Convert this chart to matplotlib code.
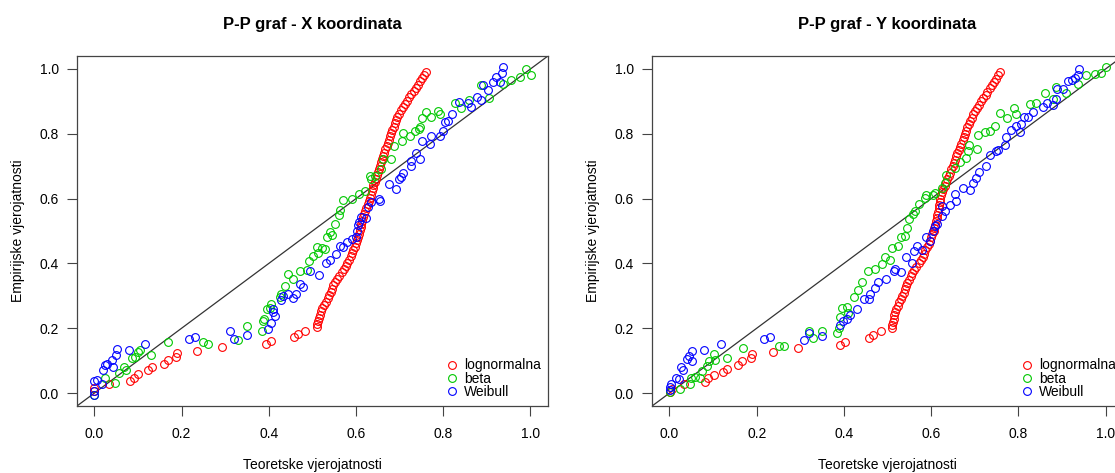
import matplotlib

matplotlib.use("Agg")
import matplotlib.pyplot as plt
import numpy as np

plt.rcParams["font.family"] = ["Liberation Sans", "DejaVu Sans"]
plt.rcParams["font.size"] = 10

# P-P graf, X koordinata: (teoretska, empirijska)
xk_lognormalna = [
    (0.000, 0.007), (0.000, 0.015), (0.033, 0.027), (0.081, 0.038), (0.090, 0.046),
    (0.101, 0.059), (0.122, 0.070), (0.133, 0.079), (0.159, 0.090), (0.168, 0.101),
    (0.188, 0.111), (0.189, 0.123), (0.236, 0.131), (0.293, 0.141), (0.394, 0.151),
    (0.404, 0.162), (0.458, 0.172), (0.468, 0.182), (0.484, 0.193), (0.510, 0.203),
    (0.511, 0.213), (0.513, 0.222), (0.515, 0.232), (0.517, 0.242), (0.519, 0.252),
    (0.523, 0.262), (0.527, 0.272), (0.531, 0.282), (0.535, 0.292), (0.538, 0.302),
    (0.542, 0.312), (0.546, 0.322), (0.548, 0.332), (0.551, 0.342), (0.556, 0.352),
    (0.562, 0.362), (0.568, 0.372), (0.573, 0.382), (0.577, 0.392), (0.580, 0.402),
    (0.584, 0.412), (0.588, 0.422), (0.591, 0.432), (0.594, 0.442), (0.597, 0.452),
    (0.600, 0.462), (0.603, 0.472), (0.605, 0.482), (0.607, 0.492), (0.609, 0.502),
    (0.611, 0.512), (0.612, 0.522), (0.614, 0.532), (0.616, 0.542), (0.618, 0.552),
    (0.621, 0.562), (0.624, 0.572), (0.627, 0.582), (0.629, 0.592), (0.631, 0.602),
    (0.634, 0.612), (0.636, 0.622), (0.638, 0.632), (0.640, 0.642), (0.643, 0.652),
    (0.645, 0.662), (0.648, 0.672), (0.651, 0.682), (0.653, 0.692), (0.655, 0.702),
    (0.657, 0.712), (0.660, 0.722), (0.662, 0.732), (0.665, 0.742), (0.667, 0.752),
    (0.670, 0.762), (0.673, 0.772), (0.676, 0.782), (0.678, 0.792), (0.681, 0.802),
    (0.683, 0.812), (0.686, 0.822), (0.689, 0.832), (0.692, 0.842), (0.695, 0.852),
    (0.698, 0.862), (0.702, 0.872), (0.707, 0.882), (0.712, 0.892), (0.717, 0.902),
    (0.722, 0.912), (0.727, 0.922), (0.732, 0.932), (0.737, 0.942), (0.742, 0.952),
    (0.747, 0.962), (0.752, 0.972), (0.756, 0.982), (0.760, 0.992),
]
xk_beta = [
    (0.000, -0.005), (0.025, 0.046), (0.048, 0.030), (0.056, 0.061), (0.067, 0.081),
    (0.073, 0.071), (0.086, 0.107), (0.094, 0.112), (0.101, 0.127), (0.105, 0.132),
    (0.130, 0.117), (0.169, 0.158), (0.250, 0.158), (0.260, 0.151), (0.330, 0.165),
    (0.349, 0.208), (0.384, 0.190), (0.386, 0.221), (0.390, 0.227), (0.395, 0.259),
    (0.403, 0.261), (0.406, 0.274), (0.425, 0.295), (0.429, 0.305), (0.437, 0.330),
    (0.444, 0.366), (0.456, 0.351), (0.471, 0.376), (0.487, 0.381), (0.493, 0.407),
    (0.502, 0.422), (0.510, 0.452), (0.513, 0.432), (0.521, 0.447), (0.529, 0.444),
    (0.534, 0.483), (0.540, 0.498), (0.544, 0.488), (0.551, 0.523), (0.561, 0.549),
    (0.564, 0.564), (0.569, 0.595), (0.590, 0.600), (0.607, 0.615), (0.620, 0.625),
    (0.632, 0.671), (0.635, 0.661), (0.643, 0.671), (0.658, 0.691), (0.662, 0.722),
    (0.681, 0.722), (0.687, 0.762), (0.706, 0.777), (0.708, 0.803), (0.723, 0.793),
    (0.735, 0.810), (0.744, 0.816), (0.747, 0.820), (0.752, 0.849), (0.760, 0.867),
    (0.771, 0.851), (0.788, 0.869), (0.793, 0.861), (0.826, 0.894), (0.841, 0.881),
    (0.860, 0.904), (0.886, 0.950), (0.905, 0.910), (0.937, 0.955), (0.956, 0.965),
    (0.975, 0.976), (0.990, 1.001), (1.002, 0.981),
]
xk_weibull = [
    (0.000, -0.005), (0.000, 0.005), (0.000, 0.036), (0.006, 0.041), (0.018, 0.027),
    (0.020, 0.071), (0.025, 0.086), (0.030, 0.091), (0.040, 0.102), (0.043, 0.081),
    (0.050, 0.117), (0.052, 0.137), (0.079, 0.132), (0.117, 0.152), (0.216, 0.166),
    (0.230, 0.173), (0.310, 0.190), (0.320, 0.168), (0.349, 0.180), (0.399, 0.198),
    (0.405, 0.216), (0.414, 0.239), (0.409, 0.259), (0.410, 0.249), (0.427, 0.288),
    (0.433, 0.300), (0.444, 0.305), (0.455, 0.292), (0.462, 0.305), (0.471, 0.335),
    (0.479, 0.328), (0.494, 0.376), (0.516, 0.363), (0.532, 0.401), (0.540, 0.412),
    (0.555, 0.430), (0.564, 0.454), (0.570, 0.452), (0.580, 0.467), (0.590, 0.475),
    (0.600, 0.483), (0.603, 0.501), (0.605, 0.518), (0.607, 0.528), (0.612, 0.544),
    (0.624, 0.539), (0.628, 0.574), (0.635, 0.589), (0.653, 0.600), (0.656, 0.592),
    (0.676, 0.645), (0.691, 0.630), (0.699, 0.661), (0.702, 0.668), (0.708, 0.678),
    (0.725, 0.701), (0.727, 0.716), (0.738, 0.742), (0.747, 0.722), (0.752, 0.777),
    (0.769, 0.767), (0.773, 0.793), (0.792, 0.793), (0.799, 0.808), (0.805, 0.836),
    (0.811, 0.840), (0.821, 0.861), (0.836, 0.899), (0.857, 0.894), (0.864, 0.884),
    (0.877, 0.912), (0.887, 0.904), (0.891, 0.950), (0.902, 0.935), (0.914, 0.960),
    (0.921, 0.976), (0.931, 0.960), (0.935, 0.989), (0.938, 1.006),
]

# P-P graf, Y koordinata
yk_lognormalna = [
    (0.002, 0.004), (0.006, 0.012), (0.033, 0.027), (0.081, 0.035), (0.088, 0.045),
    (0.101, 0.055), (0.122, 0.065), (0.132, 0.075), (0.157, 0.087), (0.167, 0.098),
    (0.188, 0.108), (0.189, 0.119), (0.237, 0.128), (0.294, 0.138), (0.391, 0.148),
    (0.403, 0.159), (0.458, 0.169), (0.466, 0.179), (0.484, 0.190), (0.510, 0.200),
    (0.511, 0.210), (0.512, 0.220), (0.514, 0.230), (0.515, 0.240), (0.518, 0.250),
    (0.520, 0.260), (0.523, 0.270), (0.527, 0.280), (0.531, 0.290), (0.534, 0.300),
    (0.537, 0.310), (0.540, 0.320), (0.542, 0.330), (0.545, 0.340), (0.549, 0.350),
    (0.553, 0.360), (0.557, 0.370), (0.561, 0.380), (0.566, 0.390), (0.572, 0.400),
    (0.577, 0.410), (0.581, 0.420), (0.584, 0.430), (0.587, 0.440), (0.591, 0.450),
    (0.594, 0.460), (0.597, 0.470), (0.600, 0.480), (0.603, 0.490), (0.606, 0.500),
    (0.607, 0.510), (0.609, 0.520), (0.611, 0.530), (0.613, 0.540), (0.614, 0.550),
    (0.615, 0.560), (0.617, 0.570), (0.618, 0.580), (0.620, 0.590), (0.621, 0.600),
    (0.623, 0.610), (0.625, 0.620), (0.628, 0.630), (0.631, 0.640), (0.634, 0.650),
    (0.637, 0.660), (0.640, 0.670), (0.643, 0.680), (0.646, 0.690), (0.649, 0.700),
    (0.652, 0.710), (0.655, 0.720), (0.657, 0.730), (0.660, 0.740), (0.663, 0.750),
    (0.666, 0.760), (0.669, 0.770), (0.672, 0.780), (0.675, 0.790), (0.678, 0.800),
    (0.680, 0.810), (0.683, 0.820), (0.686, 0.830), (0.690, 0.840), (0.693, 0.850),
    (0.697, 0.860), (0.701, 0.870), (0.705, 0.880), (0.710, 0.890), (0.715, 0.900),
    (0.720, 0.910), (0.725, 0.920), (0.729, 0.930), (0.734, 0.940), (0.739, 0.950),
    (0.744, 0.960), (0.749, 0.970), (0.754, 0.980), (0.758, 0.990),
]
yk_beta = [
    (0.002, 0.004), (0.025, 0.014), (0.048, 0.027), (0.050, 0.048), (0.059, 0.051),
    (0.071, 0.045), (0.075, 0.068), (0.086, 0.083), (0.090, 0.099), (0.101, 0.122),
    (0.105, 0.102), (0.132, 0.109), (0.169, 0.139), (0.250, 0.144), (0.262, 0.146),
    (0.319, 0.190), (0.349, 0.190), (0.330, 0.170), (0.384, 0.185), (0.388, 0.200),
    (0.391, 0.236), (0.395, 0.261), (0.407, 0.266), (0.410, 0.246), (0.422, 0.297),
    (0.433, 0.317), (0.441, 0.342), (0.456, 0.376), (0.471, 0.383), (0.487, 0.398),
    (0.494, 0.419), (0.506, 0.411), (0.510, 0.449), (0.525, 0.454), (0.532, 0.480),
    (0.540, 0.485), (0.544, 0.510), (0.550, 0.536), (0.559, 0.551), (0.563, 0.561),
    (0.571, 0.583), (0.586, 0.602), (0.588, 0.612), (0.605, 0.610), (0.609, 0.617),
    (0.624, 0.632), (0.632, 0.647), (0.635, 0.673), (0.654, 0.693), (0.666, 0.713),
    (0.681, 0.724), (0.685, 0.746), (0.687, 0.764), (0.706, 0.754), (0.708, 0.797),
    (0.723, 0.805), (0.735, 0.810), (0.746, 0.825), (0.759, 0.864), (0.773, 0.848),
    (0.790, 0.881), (0.794, 0.861), (0.826, 0.891), (0.841, 0.896), (0.860, 0.925),
    (0.879, 0.907), (0.886, 0.944), (0.910, 0.925), (0.937, 0.955), (0.956, 0.980),
    (0.975, 0.983), (0.990, 0.988), (1.000, 1.006),
]
yk_weibull = [
    (0.001, 0.010), (0.002, 0.020), (0.004, 0.027), (0.014, 0.048), (0.021, 0.043),
    (0.027, 0.081), (0.031, 0.071), (0.039, 0.106), (0.044, 0.114), (0.052, 0.129),
    (0.052, 0.099), (0.079, 0.134), (0.117, 0.152), (0.216, 0.167), (0.230, 0.173),
    (0.309, 0.163), (0.321, 0.185), (0.349, 0.177), (0.391, 0.210), (0.397, 0.221),
    (0.407, 0.228), (0.414, 0.241), (0.429, 0.258), (0.445, 0.289), (0.458, 0.289),
    (0.460, 0.305), (0.471, 0.325), (0.479, 0.342), (0.496, 0.353), (0.515, 0.378),
    (0.517, 0.383), (0.532, 0.373), (0.542, 0.419), (0.555, 0.400), (0.561, 0.439),
    (0.568, 0.454), (0.578, 0.441), (0.588, 0.480), (0.597, 0.470), (0.605, 0.500),
    (0.609, 0.515), (0.613, 0.522), (0.624, 0.546), (0.626, 0.576), (0.632, 0.563),
    (0.643, 0.581), (0.654, 0.614), (0.658, 0.593), (0.674, 0.632), (0.690, 0.627),
    (0.695, 0.647), (0.702, 0.663), (0.710, 0.681), (0.725, 0.701), (0.736, 0.734),
    (0.748, 0.746), (0.754, 0.749), (0.769, 0.766), (0.771, 0.790), (0.782, 0.811),
    (0.795, 0.825), (0.803, 0.807), (0.807, 0.829), (0.812, 0.851), (0.822, 0.853),
    (0.834, 0.868), (0.857, 0.884), (0.866, 0.896), (0.879, 0.888), (0.886, 0.907),
    (0.889, 0.937), (0.902, 0.939), (0.914, 0.962), (0.923, 0.967), (0.929, 0.972),
    (0.937, 0.980), (0.940, 1.000),
]

labels = ["lognormalna", "beta", "Weibull"]
colors = ["#ff0000", "#00c800", "#0000ff"]
ticks = [0.0, 0.2, 0.4, 0.6, 0.8, 1.0]


def pp_panel(ax, series, title):
    for data, label, color in zip(series, labels, colors):
        pts = np.array(data)
        ax.plot(pts[:, 0], pts[:, 1], "o", mfc="none", mec=color, ms=5.6,
                mew=0.8, label=label)
    ax.axline((0, 0), slope=1, color="#333333", lw=0.9, zorder=0)
    ax.set_xlim(-0.04, 1.04)
    ax.set_ylim(-0.04, 1.04)
    ax.set_xticks(ticks)
    ax.set_yticks(ticks)
    ax.set_xticklabels([f"{t:.1f}" for t in ticks])
    ax.set_yticklabels([f"{t:.1f}" for t in ticks])
    ax.tick_params(direction="out", length=7, width=0.8, color="#444444",
                   labelsize=10)
    ax.tick_params(axis="x", pad=8)
    ax.tick_params(axis="y", pad=6)
    for s in ax.spines.values():
        s.set_color("#444444")
        s.set_linewidth(0.9)
    ax.set_title(title, fontsize=12, fontweight="bold", pad=19.5)
    ax.legend(loc="lower right", frameon=False, fontsize=10, handlelength=0.8,
              handletextpad=0.5, labelspacing=-0.05, borderaxespad=0.3,
              borderpad=0.2)


fig = plt.figure(figsize=(11.15, 4.73), dpi=100)
ax1 = fig.add_axes([0.069, 0.1416, 0.4224, 0.74])
ax2 = fig.add_axes([0.5848, 0.1416, 0.4224, 0.74])

pp_panel(ax1, [xk_lognormalna, xk_beta, xk_weibull], "P-P graf - X koordinata")
pp_panel(ax2, [yk_lognormalna, yk_beta, yk_weibull], "P-P graf - Y koordinata")

for ax, cx, lx in [(ax1, 312.5 / 1115, 18 / 1115), (ax2, 887.5 / 1115, 593 / 1115)]:
    fig.text(cx, 1 - 469 / 473, "Teoretske vjerojatnosti", ha="center",
             va="baseline", fontsize=10)
    fig.text(lx, 1 - 231 / 473, "Empirijske vjerojatnosti", ha="center",
             va="center", rotation=90, fontsize=10)

fig.savefig("out.png", dpi=100)
